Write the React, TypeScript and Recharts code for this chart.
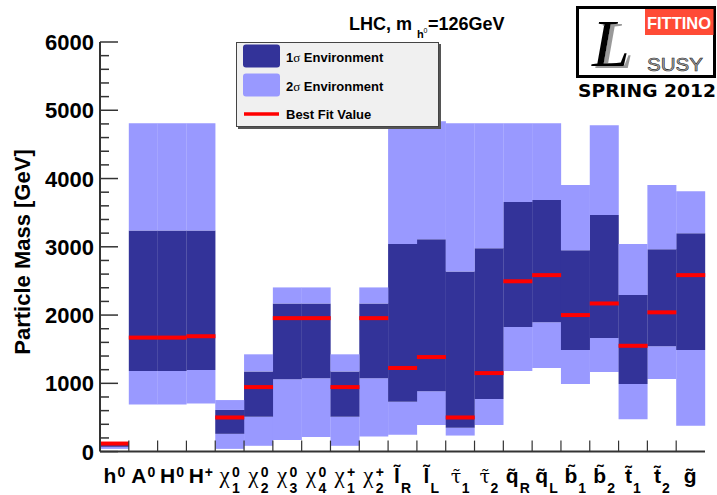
import React from 'react';
import { BarChart, Bar, XAxis, YAxis } from 'recharts';

// particle keys and the pieces of their axis labels
const particles = ['h0', 'A0', 'H0', 'H+', 'chi01', 'chi02', 'chi03', 'chi04', 'chip1', 'chip2', 'slR', 'slL', 'stau1', 'stau2', 'sqR', 'sqL', 'sb1', 'sb2', 'st1', 'st2', 'gl'];
const symbol = ['h', 'A', 'H', 'H', 'χ', 'χ', 'χ', 'χ', 'χ', 'χ', 'l', 'l', 'τ', 'τ', 'q', 'q', 'b', 'b', 't', 't', 'g'];
const superscript = ['0', '0', '0', '+', '0', '0', '0', '0', '+', '+', '', '', '', '', '', '', '', '', '', '', ''];
const subscript = ['', '', '', '', '1', '2', '3', '4', '1', '2', 'R', 'L', '1', '2', 'R', 'L', '1', '2', '1', '2', ''];
const tilde = [false, false, false, false, false, false, false, false, false, false, true, true, true, true, true, true, true, true, true, true, true];

// masses in GeV
const sigma2Low = [40, 690, 690, 705, 40, 85, 170, 215, 85, 220, 245, 390, 235, 390, 1180, 1225, 990, 1165, 475, 1065, 380];
const sigma1Low = [70, 1180, 1180, 1195, 260, 510, 1060, 1075, 510, 1075, 730, 885, 350, 770, 1825, 1895, 1490, 1665, 990, 1545, 1490];
const bestFit = [118, 1670, 1670, 1690, 500, 945, 1955, 1955, 945, 1955, 1225, 1385, 500, 1150, 2495, 2585, 2000, 2170, 1550, 2040, 2585];
const sigma1High = [130, 3240, 3240, 3240, 610, 1175, 2170, 2170, 1175, 2170, 3040, 3110, 2640, 2980, 3655, 3685, 2950, 3465, 2295, 2965, 3200];
const sigma2High = [140, 4810, 4810, 4810, 755, 1425, 2405, 2405, 1425, 2405, 4840, 4840, 4810, 4810, 4810, 4810, 3905, 4780, 3040, 3905, 3815];

const majorTicks = [0, 1000, 2000, 3000, 4000, 5000, 6000];
const yTicks = majorTicks.flatMap((v, i) => (i === 0 ? [v] : [v - 800, v - 600, v - 400, v - 200, v]));

const data = particles.map((p, i) => ({
  name: p,
  base: sigma2Low[i],
  lo2: sigma1Low[i] - sigma2Low[i],
  s1: sigma1High[i] - sigma1Low[i],
  hi2: sigma2High[i] - sigma1High[i],
  bf: bestFit[i],
}));

const W = 717;
const H = 495;
const M_LEFT = 100;
const M_RIGHT = 12;
const BAND = (W - M_LEFT - M_RIGHT) / particles.length;

const DARK = '#333399';
const LIGHT = '#9999ff';
const RED = '#ff0000';
const SANS = '"Liberation Sans", Arial, Helvetica, sans-serif';
const SERIF = '"Liberation Serif", "DejaVu Serif", serif';
// Liberation Serif has no mark anchor for tau, DejaVu does
const TILDE_GREEK = '"DejaVu Serif", serif';

const baseWidth: Record<string, number> = { h: 12.8, A: 15.2, H: 15.2, 'χ': 11.5, l: 5.8, 'τ': 10, q: 12.8, b: 12.8, t: 7, g: 12.8 };
const scriptWidth: Record<string, number> = { '0': 7.8, '+': 8.2, R: 10, L: 8.6 };

const YTick = (props: any) => {
  const { x, y, payload } = props;
  const major = payload.value % 1000 === 0;
  return (
    <g>
      <line x1={x} x2={x + (major ? 18 : 9)} y1={y} y2={y} stroke="#333" strokeWidth={1.5} />
      {major && (
        <text x={x - 6} y={y + 8} textAnchor="end" fontFamily={SANS} fontWeight="bold" fontSize={22} fill="#000">
          {payload.value}
        </text>
      )}
    </g>
  );
};

// particle symbol (combining tilde for sparticles) with super- and subscript
const XTick = (props: any) => {
  const { x, y, index } = props;
  const sym = symbol[index];
  const sup = superscript[index];
  const sub = subscript[index];
  const greek = sym === 'χ' || sym === 'τ';
  const wb = baseWidth[sym] ?? 12;
  const ws = Math.max(scriptWidth[sup] ?? (sup ? 7.8 : 0), scriptWidth[sub] ?? (sub ? 7.8 : 0));
  const start = x - (wb + 1 + ws) / 2;
  const y0 = y + 31.5;
  const edge = x - BAND / 2;
  const symFont = greek ? (tilde[index] ? TILDE_GREEK : SERIF) : SANS;
  const symSize = greek ? (tilde[index] ? 19 : 23) : 21;
  return (
    <g>
      {index > 0 && <line x1={edge} x2={edge} y1={y} y2={y - 11} stroke="#333" strokeWidth={1.2} />}
      <text fill="#000" fontFamily={SANS} fontWeight="bold" fontSize={14}>
        <tspan x={start} y={y0} fontFamily={symFont} fontWeight={greek ? 'normal' : 'bold'} fontSize={symSize}>
          {tilde[index] ? sym + '\u0303' : sym}
        </tspan>
        {sup && (
          <tspan x={start + wb + 1} y={y0 - 6}>
            {sup}
          </tspan>
        )}
        {sub && (
          <tspan x={start + wb + 1} y={y0 + 10}>
            {sub}
          </tspan>
        )}
      </text>
    </g>
  );
};

const BestFitLine = (props: any) => {
  const { x, y, width } = props;
  return <rect x={x} y={y - 2} width={width} height={4} fill={RED} />;
};

const Overlay = () => (
  <svg width={W} height={H} style={{ position: 'absolute', left: 0, top: 0, pointerEvents: 'none' }}>
    <defs>
      <filter id="shade" x="-20%" y="-20%" width="150%" height="150%">
        <feDropShadow dx={4} dy={2} stdDeviation={0.6} floodColor="#999" floodOpacity={1} />
      </filter>
    </defs>

    {/* title */}
    <text y={30} fontFamily={SANS} fontWeight="bold" fontSize={18} fill="#000">
      <tspan x={349}>LHC, m</tspan>
      <tspan x={417} y={38} fontSize={11}>h</tspan>
      <tspan x={423.5} y={33} fontSize={7} fontWeight="normal">0</tspan>
      <tspan x={428} y={30}>=126GeV</tspan>
    </text>

    {/* y axis title */}
    <text
      transform="translate(30,252) rotate(-90)"
      textAnchor="middle"
      fontFamily={SANS}
      fontWeight="bold"
      fontSize={22}
      fill="#000"
    >
      Particle Mass [GeV]
    </text>

    {/* legend */}
    <rect x={238} y={44} width={203} height={85} fill="#555" />
    <rect x={236.5} y={42.5} width={202} height={84} fill="#f0f0f0" stroke="#444" strokeWidth={1} />
    <rect x={243} y={44.5} width={37} height={23} rx={3} fill={DARK} />
    <rect x={243} y={73.5} width={37} height={23} rx={3} fill={LIGHT} />
    <line x1={244} x2={279} y1={114} y2={114} stroke={RED} strokeWidth={3.5} />
    <text x={286} y={62} fontFamily={SANS} fontWeight="bold" fontSize={13} fill="#000">
      1<tspan fontFamily={SERIF} fontWeight="normal">σ</tspan> Environment
    </text>
    <text x={286} y={91} fontFamily={SANS} fontWeight="bold" fontSize={13} fill="#000">
      2<tspan fontFamily={SERIF} fontWeight="normal">σ</tspan> Environment
    </text>
    <text x={286} y={119} fontFamily={SANS} fontWeight="bold" fontSize={13} fill="#000">Best Fit Value</text>

    {/* logo */}
    <rect x={575} y={0} width={142} height={103} fill="#fff" />
    <rect x={577.5} y={7.5} width={137} height={69} fill="#fff" stroke="#000" strokeWidth={3} />
    <rect x={645} y={9} width={68.5} height={26} fill="#ff4b36" />
    <text x={679} y={29} textAnchor="middle" fontFamily={SANS} fontWeight="bold" fontSize={16.5} fill="#fff">FITTINO</text>
    <text x={592} y={66} fontFamily={SERIF} fontStyle="italic" fontSize={68} fill="#000" filter="url(#shade)">L</text>
    <text x={647} y={71} fontFamily={SANS} fontSize={19} fill="#b0b0b0" stroke="#222" strokeWidth={0.6} textLength={56} lengthAdjust="spacingAndGlyphs">SUSY</text>
    <text x={578} y={97} fontFamily='"DejaVu Sans", sans-serif' fontWeight="bold" fontSize={18} fill="#000" textLength={138} lengthAdjust="spacingAndGlyphs">SPRING 2012</text>
  </svg>
);

export default function App() {
  return (
    <div style={{ position: 'absolute', left: 0, top: 0, width: W, height: H, background: '#fff' }}>
      <BarChart
        width={W}
        height={H}
        data={data}
        margin={{ top: 42, right: M_RIGHT, bottom: 0, left: 0 }}
        barCategoryGap={0}
        barGap={0}
      >
        <XAxis
          dataKey="name"
          interval={0}
          tickSize={0}
          tickMargin={0}
          tickLine={false}
          height={43.4}
          axisLine={{ stroke: '#333', strokeWidth: 2 }}
          tick={<XTick />}
        />
        <XAxis xAxisId="top" dataKey="name" orientation="top" height={0} tick={false} tickLine={false} axisLine={{ stroke: '#555', strokeWidth: 1.5 }} />
        <YAxis
          domain={[0, 6000]}
          ticks={yTicks}
          interval={0}
          width={M_LEFT}
          tickSize={0}
          tickMargin={0}
          tickLine={false}
          axisLine={{ stroke: '#333', strokeWidth: 2 }}
          tick={<YTick />}
        />
        <YAxis yAxisId="r" orientation="right" domain={[0, 6000]} width={0} tick={false} tickLine={false} axisLine={{ stroke: '#888', strokeWidth: 2 }} />
        <Bar dataKey="base" stackId="s" fill="transparent" isAnimationActive={false} />
        <Bar dataKey="lo2" stackId="s" fill={LIGHT} isAnimationActive={false} />
        <Bar dataKey="s1" stackId="s" fill={DARK} isAnimationActive={false} />
        <Bar dataKey="hi2" stackId="s" fill={LIGHT} isAnimationActive={false} />
        <Bar xAxisId="top" dataKey={(d: any) => [d.bf, d.bf]} shape={<BestFitLine />} isAnimationActive={false} />
      </BarChart>
      <Overlay />
    </div>
  );
}
